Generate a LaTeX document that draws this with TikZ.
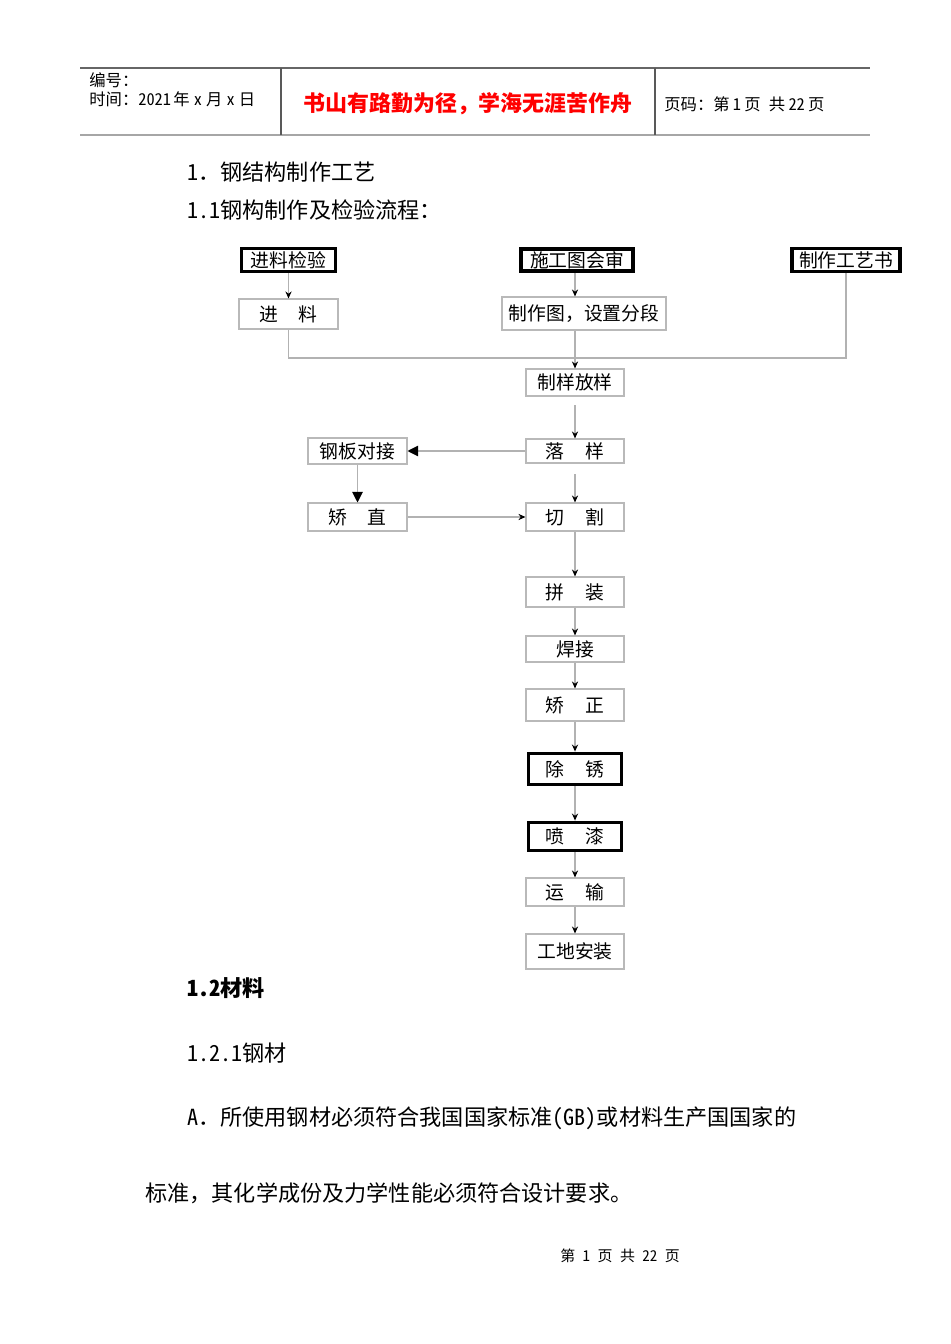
\documentclass[tikz,border=0pt]{standalone}
\usepackage{fontspec}
\setmainfont{Noto Sans CJK SC}
\newfontfamily\halfw{Noto Sans CJK SC}[RawFeature=+hwid]
\usetikzlibrary{arrows.meta,positioning}

\begin{document}
\begin{tikzpicture}[x=0.02cm,y=-0.02cm,
  every node/.style={inner sep=0pt,font=\fontsize{10.7}{12}\selectfont},
  stepbox/.style={draw=gray!55,line width=0.6pt,minimum width=1.96cm},
  checkbox/.style={draw=black,line width=2.2pt},
  flow/.style={draw=gray!60,line width=0.6pt,-{Stealth[black,length=4pt,width=3.5pt]}},
  bigflow/.style={draw=gray!60,line width=0.6pt,-{Triangle[black,length=6pt,width=6pt]}},
  link/.style={draw=gray!60,line width=0.6pt},
  bodytext/.style={anchor=west,font=\fontsize{12.6}{14}\selectfont},
  headtext/.style={anchor=west,font=\fontsize{9.3}{10}\selectfont}]
\useasboundingbox (0,0) rectangle (950,1344);

% Page header
\draw[gray!80!black,line width=0.6pt] (80,68) -- (870,68);
\draw[gray!70,line width=1.6pt] (80,135) -- (870,135);
\draw[gray!70!black,line width=0.6pt] (281,68) -- (281,135);
\draw[gray!70!black,line width=0.6pt] (655,68) -- (655,135);
\node[headtext] (hnum) at (89,80) {编号：};
\node[headtext] (hdate) at (89,99) {时间：{\halfw 2021}\hspace{0.15em}年\hspace{0.25em}{\halfw x}\hspace{0.25em}月\hspace{0.25em}{\halfw x}\hspace{0.25em}日};
\node[red,font=\fontsize{12.5}{14}\bfseries] (motto) at (468,104) {书山有路勤为径，学海无涯苦作舟};
\node[headtext] (hpage) at (664,104) {页码：第\hspace{0.2em}{\halfw 1}\hspace{0.2em}页\enspace 共\hspace{0.2em}{\halfw 22}\hspace{0.2em}页};

% Section titles
\node[bodytext] (sec1) at (187,172) {{\halfw 1}．钢结构制作工艺};
\node[bodytext] (sec11) at (187,210) {{\halfw 1.1}钢构制作及检验流程：};

% Inputs
\node[checkbox,minimum width=1.88cm,minimum height=0.46cm] (jljy) at (288.5,260) {进料检验};
\node[checkbox,minimum width=2.24cm,minimum height=0.44cm] (sgtu) at (577,260) {施工图会审};
\node[checkbox,minimum width=2.16cm,minimum height=0.46cm] (zzgy) at (846,260) {制作工艺书};
\node[stepbox,minimum width=1.98cm,minimum height=0.6cm] (jl) at (288.5,314) {进\hspace{1.1em}料};
\node[stepbox,minimum width=3.28cm,minimum height=0.66cm] (zzt) at (584,313.5) {制作图，设置分段};
\coordinate (merge) at (575,358);

% Main line
\node[stepbox,minimum height=0.54cm] (zyfy) at (575,382.5) {制样放样};
\node[stepbox,minimum height=0.48cm] (ly) at (575,451) {落\hspace{1.1em}样};
\node[stepbox,minimum width=1.98cm,minimum height=0.52cm] (gbdj) at (357.5,451) {钢板对接};
\node[stepbox,minimum width=1.98cm,minimum height=0.56cm] (jz) at (357.5,517) {矫\hspace{1.1em}直};
\node[stepbox,minimum height=0.56cm] (qg) at (575,517) {切\hspace{1.1em}割};
\node[stepbox,minimum height=0.6cm] (pz) at (575,592) {拼\hspace{1.1em}装};
\node[stepbox,minimum height=0.52cm] (hj) at (575,649) {焊接};
\node[stepbox,minimum height=0.64cm] (jzheng) at (575,705) {矫\hspace{1.1em}正};
\node[checkbox,minimum width=1.86cm,minimum height=0.62cm] (cx) at (575,769) {除\hspace{1.1em}锈};
\node[checkbox,minimum width=1.86cm,minimum height=0.56cm] (pq) at (575,836.5) {喷\hspace{1.1em}漆};
\node[stepbox,minimum height=0.56cm] (ys) at (575,892) {运\hspace{1.1em}输};
\node[stepbox,minimum height=0.7cm] (gdaz) at (575,951.5) {工地安装};

% Connectors
\draw[flow] (jljy) -- (jl);
\draw[flow] (sgtu.south -| zyfy) -- (zzt.north -| zyfy);
\draw[link] (jl.south) |- (merge) -| (zzgy.south);
\draw[flow] (zzt.south -| zyfy) -- (zyfy);
\draw[flow,shorten <=5pt] (zyfy) -- (ly);
\draw[bigflow] (ly) -- (gbdj);
\draw[bigflow] (gbdj) -- (jz);
\draw[flow] (jz) -- (qg);
\draw[flow,shorten <=6pt] (ly) -- (qg);
\draw[flow] (qg) -- (pz);
\draw[flow] (pz) -- (hj);
\draw[flow] (hj) -- (jzheng);
\draw[flow] (jzheng) -- (cx);
\draw[flow] (cx) -- (pq);
\draw[flow] (pq) -- (ys);
\draw[flow] (ys) -- (gdaz);

% Materials
\node[bodytext,font=\fontsize{12.6}{14}\bfseries] (sec12) at (187,988) {{\halfw 1.2}材料};
\node[bodytext] (sec121) at (187,1053) {{\halfw 1.2.1}钢材};
\node[bodytext] (parA) at (187,1118) {{\halfw A}．所使用钢材必须符合我国国家标准{\halfw (GB)}或材料生产国国家的};
\node[bodytext] (parA2) at (145,1193) {标准，其化学成份及力学性能必须符合设计要求。};

% Footer
\node[font=\fontsize{8.5}{9}\selectfont] (foot) at (620,1256) {第\enspace{\halfw 1}\enspace 页\enspace 共\enspace{\halfw 22}\enspace 页};
\end{tikzpicture}
\end{document}
